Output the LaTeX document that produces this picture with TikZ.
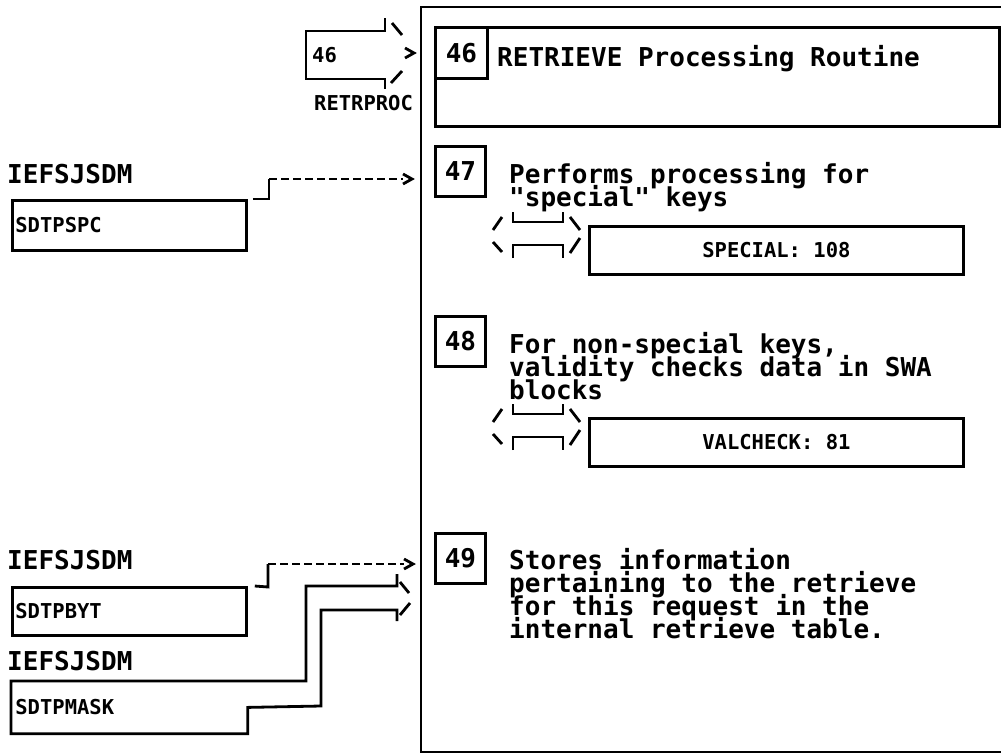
\documentclass[tikz,border=0pt]{standalone}
\usepackage{fontspec}
\newfontfamily\monof{DejaVu Sans Mono}
\newcommand\lns[1]{\parbox[t]{480pt}{\raggedright\lineskiplimit=-40pt\relax #1}}
\tikzset{
  ln/.style={line width=2.8pt},
  bigtxt/.style={font=\monof\bfseries\fontsize{26}{23.3}\selectfont},
  smalltxt/.style={font=\monof\bfseries\fontsize{20.5}{24}\selectfont},
  numbox/.style={draw, ln, bigtxt, inner sep=0pt, minimum width=50pt, minimum height=50pt, anchor=north west},
  refbox/.style={draw, ln, smalltxt, inner sep=0pt, minimum width=374pt, minimum height=48pt, anchor=north west},
  modbox/.style={ln, smalltxt, inner sep=3pt, text width=228pt, align=left, minimum height=50pt, anchor=north west},
  dsh/.style={ln, dash pattern=on 8pt off 4pt},
  txt/.style={bigtxt, inner sep=0pt, anchor=base west},
  pics/brk/.style={code={
    \draw[ln] (0,18) -- (9,5);
    \draw[ln] (20,0) -- (20,10) -- (70,10) -- (70,0);
    \draw[ln] (77,5) -- (87,18);
    \draw[ln] (0,30) -- (9,40);
    \draw[ln] (20,46) -- (20,33) -- (70,33) -- (70,46);
    \draw[ln] (77,41) -- (87,26);
  }}
}
\begin{document}
\begin{tikzpicture}[x=1pt,y=-1pt]
\useasboundingbox (0,0) rectangle (1001,753);
% outer frame (open to the right)
\draw[ln] (1001,7) -- (421,7) -- (421,752) -- (1001,752);

% ---- step 46 ----
\node[draw, ln, minimum width=564pt, minimum height=99pt, anchor=north west, inner sep=0pt] (b46) at (434,26) {};
\node[numbox, minimum width=52pt, minimum height=51pt] (n46) at (434,26) {46};
\node[txt] (t46) at (497,66) {RETRIEVE Processing Routine};

% entry arrow 46
\node[smalltxt, inner sep=0pt, anchor=base west] (e46) at (312,62) {46};
\node[smalltxt, inner sep=0pt, anchor=base west] (rp) at (314,110) {RETRPROC};
\coordinate (ea1) at (385,18);
\coordinate (ea2) at (385,31);
\coordinate (ea3) at (306,31);
\coordinate (ea4) at (306,79);
\coordinate (ea5) at (385,79);
\coordinate (ea6) at (385,89);
\draw[ln] (ea1) -- (ea2) -- (ea3) -- (ea4) -- (ea5) -- (ea6);
\draw[ln] (392,23) -- (402,35);
\draw[ln] (391,83) -- (402,71);
\draw[ln] (405,48) -- (414,53) -- (405,58);

% ---- step 47 ----
\node[numbox] (n47) at (434,145) {47};
\node[txt] (t47) at (509,183) {\lns{Performs processing for\\"special" keys}};
\pic at (493,212) {brk};
\node[refbox] (r47) at (588,225) {SPECIAL: 108};

% ---- step 48 ----
\node[numbox] (n48) at (434,315) {48};
\node[txt] (t48) at (509,353) {\lns{For non-special keys,\\validity checks data in SWA\\blocks}};
\pic at (493,404) {brk};
\node[refbox] (r48) at (588,417) {VALCHECK: 81};

% ---- step 49 ----
\node[numbox] (n49) at (434,532) {49};
\node[txt] (t49) at (509,569) {\lns{Stores information\\pertaining to the retrieve\\for this request in the\\internal retrieve table.}};

% ---- left side: SDTPSPC ----
\node[txt] (m1) at (7,183) {IEFSJSDM};
\node[modbox, draw] (spc) at (11,199) {SDTPSPC};
\coordinate (c1a) at ([xshift=5pt]spc.north east);
\coordinate (c1b) at (269,199);
\coordinate (c1c) at (269,179);
\coordinate (c1d) at (403,179);
\draw[ln] (c1a) -- (c1b) -- (c1c);
\draw[dsh] (c1c) -- (c1d);
\draw[ln] (403,174) -- (412,179) -- (403,184);

% ---- left side: SDTPBYT ----
\node[txt] (m2) at (7,569) {IEFSJSDM};
\node[modbox, draw, minimum height=48pt] (byt) at (11,586) {SDTPBYT};
\coordinate (c2a) at ([xshift=7pt]byt.north east);
\coordinate (c2b) at (268,587);
\coordinate (c2c) at (268,564);
\coordinate (c2d) at (404,564);
\draw[ln] (c2a) -- (c2b) -- (c2c);
\draw[dsh] (c2c) -- (c2d);
\draw[ln] (404,559) -- (413,564) -- (404,569);

% ---- left side: SDTPMASK ----
\node[txt] (m3) at (7,670) {IEFSJSDM};
\node[modbox] (msk) at (11,681) {SDTPMASK};
\coordinate (fa1) at (397,574);
\coordinate (fa2) at (397,586);
\coordinate (fa3) at (306,586);
\coordinate (fa4) at (306,681);
\coordinate (fb1) at (321,706);
\coordinate (fb2) at (321,610);
\coordinate (fb3) at (397,610);
\coordinate (fb4) at (397,621);
\draw[ln] (fa1) -- (fa2) -- (fa3) -- (fa4) -- (msk.north west) -- (msk.south west) -- (msk.south east) -- (msk.east) -- (fb1) -- (fb2) -- (fb3) -- (fb4);
\draw[ln] (400,582) -- (409,593);
\draw[ln] (400,615) -- (410,603);
\end{tikzpicture}
\end{document}
